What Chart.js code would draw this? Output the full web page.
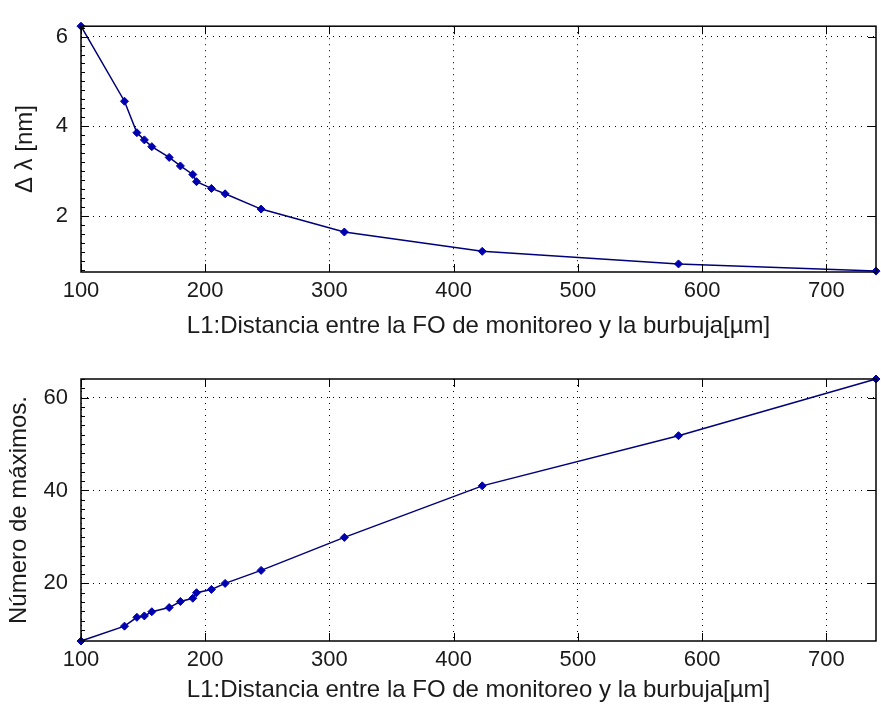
<!DOCTYPE html>
<html>
<head>
<meta charset="utf-8">
<script src="https://cdn.jsdelivr.net/npm/chart.js@4.4.1/dist/chart.umd.min.js"></script>
<style>
  html, body { margin: 0; padding: 0; background: #fff; }
  #wrap { position: relative; width: 881px; height: 705px; }
  .panel { position: absolute; left: 0; width: 881px; }
</style>
</head>
<body>
<div id="wrap">
  <div class="panel" style="top:0;height:352px"><canvas id="chartTop"></canvas></div>
  <div class="panel" style="top:352px;height:353px"><canvas id="chartBottom"></canvas></div>
</div>
<script>
// Data
const distance = [100, 135, 145, 151, 157, 171, 180, 190, 193, 205, 216, 245, 312, 423, 581, 740];
const deltaLambda = [6.23, 4.56, 3.86, 3.70, 3.55, 3.31, 3.12, 2.93, 2.77, 2.62, 2.50, 2.16, 1.65, 1.22, 0.94, 0.78];
const maxCount = [7.6, 10.8, 12.7, 13.0, 13.9, 14.8, 16.1, 16.8, 18.0, 18.7, 20.0, 22.8, 29.9, 41.0, 51.8, 64.0];

// Ticks
const xTicks = [100, 200, 300, 400, 500, 600, 700];
const topYTicks = [2, 4, 6];
const bottomYTicks = [20, 40, 60];

const X_TITLE = 'L1:Distancia entre la FO de monitoreo y la burbuja[µm]';
const LINE_COLOR = '#00007a';
const MARKER_COLOR = '#0000b0';

Chart.defaults.font.family = "'Liberation Sans', Arial, sans-serif";
Chart.defaults.color = '#1a1a1a';

// MATLAB-like box with inward ticks
const matlabBox = {
    id: 'matlabBox',
    afterDraw(chart) {
        const {ctx, chartArea: a, scales: {x, y}} = chart;
        const minor = chart.options.plugins.matlabBox.minorStep;
        ctx.save();
        ctx.strokeStyle = '#000';
        ctx.lineWidth = 1;
        ctx.beginPath();
        x.ticks.forEach((t) => {
            const px = Math.round(x.getPixelForValue(t.value)) + 0.5;
            ctx.moveTo(px, a.bottom); ctx.lineTo(px, a.bottom - 8);
            ctx.moveTo(px, a.top); ctx.lineTo(px, a.top + 8);
        });
        y.ticks.forEach((t) => {
            const py = Math.round(y.getPixelForValue(t.value)) + 0.5;
            ctx.moveTo(a.left, py); ctx.lineTo(a.left + 8, py);
            ctx.moveTo(a.right, py); ctx.lineTo(a.right - 8, py);
        });
        for (let k = Math.ceil(y.min / minor); k * minor <= y.max; k++) {
            const py = Math.round(y.getPixelForValue(k * minor)) + 0.5;
            ctx.moveTo(a.left, py); ctx.lineTo(a.left + 4, py);
        }
        ctx.stroke();
        ctx.lineWidth = 1.5;
        ctx.strokeRect(a.left, a.top, a.right - a.left, a.bottom - a.top);
        ctx.restore();
    }
};

function makeChart(id, yValues, cfg) {
    const points = distance.map((d, i) => ({x: d, y: yValues[i]}));
    return new Chart(document.getElementById(id), {
        type: 'scatter',
        data: {
            datasets: [{
                data: points,
                showLine: true,
                borderColor: LINE_COLOR,
                borderWidth: 1.5,
                pointStyle: 'rectRot',
                pointRadius: 4,
                pointBackgroundColor: MARKER_COLOR,
                pointBorderColor: MARKER_COLOR,
                pointBorderWidth: 1,
                clip: 6,
            }]
        },
        options: {
            responsive: true,
            maintainAspectRatio: false,
            animation: false,
            layout: {padding: {top: cfg.padTop, right: 1, left: 0, bottom: 0}},
            plugins: {
                legend: {display: false},
                tooltip: {enabled: false},
                matlabBox: {minorStep: cfg.minorStep},
            },
            scales: {
                x: {
                    type: 'linear',
                    min: 100,
                    max: 740,
                    afterBuildTicks: (s) => { s.ticks = xTicks.map((v) => ({value: v})); },
                    afterFit: (s) => { s.height = cfg.xAxisHeight; },
                    grid: {color: '#000', lineWidth: 1, drawTicks: false},
                    border: {display: false, dash: [1, 5]},
                    ticks: {padding: 6, font: {size: 22}, maxRotation: 0},
                    title: {
                        display: true,
                        text: X_TITLE,
                        font: {size: 24},
                        padding: {top: 0, bottom: cfg.xTitlePad},
                    },
                },
                y: {
                    type: 'linear',
                    min: cfg.yMin,
                    max: cfg.yMax,
                    afterBuildTicks: (s) => { s.ticks = cfg.yTicks.map((v) => ({value: v})); },
                    afterFit: (s) => { s.width = 81; },
                    grid: {color: '#000', lineWidth: 1, drawTicks: false},
                    border: {display: false, dash: [1, 5]},
                    ticks: {padding: 13, font: {size: 22}},
                    title: {
                        display: true,
                        text: cfg.yTitle,
                        font: {size: 24},
                        padding: {top: cfg.yTitlePad, bottom: 0},
                    },
                },
            },
        },
        plugins: [matlabBox],
    });
}

makeChart('chartTop', deltaLambda, {
    padTop: 11, xAxisHeight: 80, xTitlePad: 11,
    yMin: 0.76, yMax: 6.23, yTicks: topYTicks, minorStep: 0.2,
    yTitle: 'Δ λ [nm]', yTitlePad: 11,
});
makeChart('chartBottom', maxCount, {
    padTop: 27, xAxisHeight: 64, xTitlePad: 0,
    yMin: 7.6, yMax: 64.0, yTicks: bottomYTicks, minorStep: 2,
    yTitle: 'Número de máximos.', yTitlePad: 5,
});
</script>
</body>
</html>
